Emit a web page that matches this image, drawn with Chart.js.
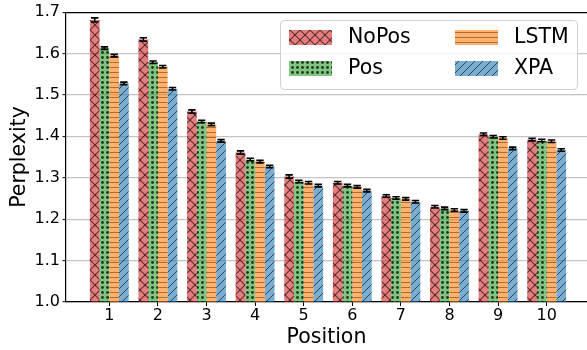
<!DOCTYPE html>
<html>
<head>
<meta charset="utf-8">
<script src="https://cdn.jsdelivr.net/npm/chart.js@4.4.1/dist/chart.umd.min.js"></script>
<style>
  html, body { margin: 0; padding: 0; background: #fff; }
  #chart { display: block; }
</style>
</head>
<body>
<canvas id="chart" width="587" height="350"></canvas>
<script>
// data
const positions = [1, 2, 3, 4, 5, 6, 7, 8, 9, 10];
const seriesNames = ['NoPos', 'Pos', 'LSTM', 'XPA'];
const noPos = [1.681, 1.634, 1.460, 1.361, 1.303, 1.288, 1.256, 1.230, 1.405, 1.392];
const pos   = [1.613, 1.579, 1.436, 1.344, 1.291, 1.281, 1.251, 1.226, 1.399, 1.390];
const lstm  = [1.595, 1.568, 1.429, 1.339, 1.288, 1.278, 1.249, 1.222, 1.396, 1.388];
const xpa   = [1.528, 1.515, 1.389, 1.327, 1.281, 1.269, 1.242, 1.220, 1.371, 1.367];
const noPosErr = [0.005, 0.004, 0.004, 0.004, 0.004, 0.003, 0.003, 0.003, 0.003, 0.003];
const posErr   = [0.003, 0.003, 0.003, 0.003, 0.003, 0.003, 0.003, 0.003, 0.003, 0.003];
const lstmErr  = [0.003, 0.003, 0.003, 0.003, 0.003, 0.003, 0.003, 0.003, 0.003, 0.003];
const xpaErr   = [0.003, 0.003, 0.003, 0.003, 0.003, 0.003, 0.003, 0.003, 0.003, 0.003];
const yTicks = [1.0, 1.1, 1.2, 1.3, 1.4, 1.5, 1.6, 1.7];

const FONT = "'DejaVu Sans', sans-serif";

// hatch tiles, matplotlib style (face alpha 0.6, dark hatch on top)
function makePattern(kind) {
  const c = document.createElement('canvas');
  const g = c.getContext('2d');
  let s;
  if (kind === 'x') {
    s = 10; c.width = s; c.height = s;
    g.fillStyle = 'rgba(214,39,40,0.6)';
    g.fillRect(0, 0, s, s);
    g.strokeStyle = 'rgba(0,0,0,0.6)';
    g.lineWidth = 1.1;
    for (let k = -1; k <= 1; k++) {
      g.beginPath(); g.moveTo(k * s, 0); g.lineTo(k * s + s, s); g.stroke();
      g.beginPath(); g.moveTo(k * s + s, 0); g.lineTo(k * s, s); g.stroke();
    }
  } else if (kind === 'o') {
    s = 5; c.width = s; c.height = s;
    g.fillStyle = 'rgba(44,160,44,0.6)';
    g.fillRect(0, 0, s, s);
    g.fillStyle = 'rgba(0,0,0,0.72)';
    g.beginPath(); g.arc(2.5, 2.5, 1.45, 0, Math.PI * 2); g.fill();
  } else if (kind === '-') {
    s = 5; c.width = s; c.height = s;
    g.fillStyle = 'rgba(255,127,14,0.6)';
    g.fillRect(0, 0, s, s);
    g.fillStyle = 'rgba(110,50,0,0.55)';
    g.fillRect(0, 2, s, 1);
  } else {
    s = 8; c.width = s; c.height = s;
    g.fillStyle = 'rgba(31,119,180,0.6)';
    g.fillRect(0, 0, s, s);
    g.strokeStyle = 'rgba(0,0,0,0.6)';
    g.lineWidth = 1;
    for (let k = -1; k <= 1; k++) {
      g.beginPath(); g.moveTo(k * s, s); g.lineTo(k * s + s, 0); g.stroke();
    }
  }
  return document.createElement('canvas').getContext('2d').createPattern(c, 'repeat');
}

const patterns = [makePattern('x'), makePattern('o'), makePattern('-'), makePattern('/')];
const allValues = [noPos, pos, lstm, xpa];
const allErrs = [noPosErr, posErr, lstmErr, xpaErr];

const datasets = seriesNames.map((name, k) => ({
  label: name,
  data: positions.map((p, i) => ({ x: p, y: allValues[k][i] })),
  errors: allErrs[k],
  backgroundColor: patterns[k],
  borderWidth: 0,
  barPercentage: 1.0,
  categoryPercentage: 0.8
}));

// error bars drawn from the bar elements and the y scale
const errorBars = {
  id: 'errorBars',
  afterDatasetsDraw(chart) {
    const ctx = chart.ctx;
    const yScale = chart.scales.y;
    ctx.save();
    ctx.strokeStyle = '#000';
    ctx.lineWidth = 1.6;
    chart.data.datasets.forEach((ds, k) => {
      const meta = chart.getDatasetMeta(k);
      meta.data.forEach((bar, i) => {
        const v = ds.data[i].y, e = ds.errors[i];
        const yt = yScale.getPixelForValue(v + e);
        const yb = yScale.getPixelForValue(v - e);
        const x = bar.x;
        ctx.beginPath();
        ctx.moveTo(x, yt); ctx.lineTo(x, yb);
        ctx.moveTo(x - 3.7, yt); ctx.lineTo(x + 3.7, yt);
        ctx.moveTo(x - 3.7, yb); ctx.lineTo(x + 3.7, yb);
        ctx.stroke();
      });
    });
    ctx.restore();
  }
};

// legend box, two columns like the original
const hatchLegend = {
  id: 'hatchLegend',
  afterDraw(chart) {
    const ctx = chart.ctx;
    ctx.save();
    const bx = 280.5, by = 20.5, bw = 297, bh = 69, r = 4;
    ctx.beginPath();
    ctx.moveTo(bx + r, by);
    ctx.arcTo(bx + bw, by, bx + bw, by + bh, r);
    ctx.arcTo(bx + bw, by + bh, bx, by + bh, r);
    ctx.arcTo(bx, by + bh, bx, by, r);
    ctx.arcTo(bx, by, bx + bw, by, r);
    ctx.closePath();
    ctx.fillStyle = 'rgba(255,255,255,0.8)';
    ctx.fill();
    ctx.strokeStyle = 'rgba(204,204,204,0.9)';
    ctx.lineWidth = 1;
    ctx.stroke();

    const cols = [289, 455];
    const rows = [30, 61];
    ctx.font = '20.5px ' + FONT;
    ctx.textBaseline = 'middle';
    seriesNames.forEach((name, k) => {
      const cx = cols[Math.floor(k / 2)];
      const ry = rows[k % 2];
      ctx.fillStyle = patterns[k];
      ctx.fillRect(cx, ry, 43, 15);
      ctx.fillStyle = '#000';
      ctx.fillText(name, cx + 59, ry + 8);
    });
    ctx.restore();
  }
};

new Chart(document.getElementById('chart').getContext('2d'), {
  type: 'bar',
  data: { datasets },
  options: {
    responsive: false,
    animation: false,
    devicePixelRatio: 1,
    layout: { padding: { top: 10, right: 0, left: 0, bottom: 0 } },
    plugins: { legend: { display: false }, tooltip: { enabled: false } },
    scales: {
      x: {
        type: 'linear',
        offset: false,
        min: 0.109,
        max: 10.83,
        afterBuildTicks: (scale) => { scale.ticks = positions.map(v => ({ value: v })); },
        afterFit: (scale) => { scale.height = 48; },
        grid: { offset: false, drawOnChartArea: false, drawTicks: true, tickLength: 4, tickColor: '#000', tickWidth: 1 },
        border: { color: '#000', width: 1.2 },
        ticks: { padding: 0, color: '#000', font: { family: FONT, size: 16 }, callback: (v) => String(v) },
        title: { display: true, text: 'Position', color: '#000', font: { family: FONT, size: 20.5, lineHeight: 1.2 }, padding: { top: 0, bottom: 0 } }
      },
      y: {
        min: 1.0,
        max: 1.7,
        afterBuildTicks: (scale) => { scale.ticks = yTicks.map(v => ({ value: v })); },
        afterFit: (scale) => { scale.width = 66; },
        grid: {
          color: (c) => (c.tick && c.tick.value > 1.69 ? '#000' : '#c4c4c4'),
          lineWidth: (c) => (c.tick && c.tick.value > 1.69 ? 1.2 : 1.3),
          tickColor: '#000',
          tickLength: 3.5,
          tickWidth: 1
        },
        border: { color: '#000', width: 1.2 },
        ticks: { padding: 2.5, color: '#000', font: { family: FONT, size: 16 }, callback: (v) => v.toFixed(1) },
        title: { display: true, text: 'Perplexity', color: '#000', font: { family: FONT, size: 20.5, lineHeight: 1.2 }, padding: { top: 7, bottom: 0 } }
      }
    }
  },
  plugins: [errorBars, hatchLegend]
});
</script>
</body>
</html>
